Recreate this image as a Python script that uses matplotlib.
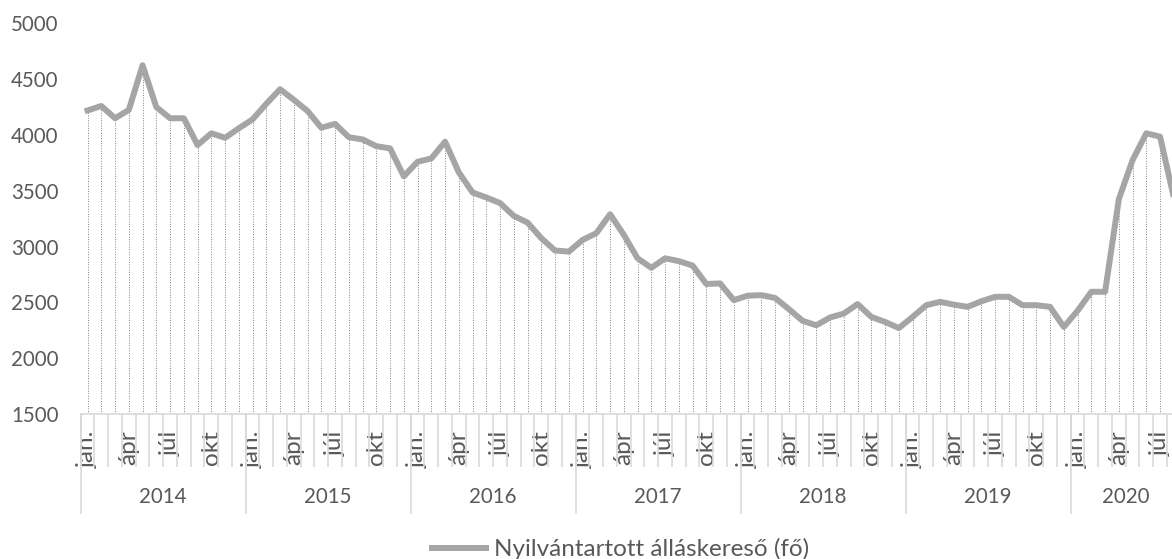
import numpy as np
import matplotlib.pyplot as plt

plt.rcParams['font.family'] = ['Lato', 'DejaVu Sans']

evek = ['2014', '2015', '2016', '2017', '2018', '2019', '2020']
honapok = ['jan.', 'febr.', 'márc.', 'ápr', 'máj.', 'jún.', 'júl', 'aug.', 'szept.', 'okt', 'nov.', 'dec.']

# Nyilvántartott álláskereső (fő), 2014 jan. - 2020 aug.
ertekek = [
    4220, 4260, 4150, 4225, 4625, 4250, 4150, 4150, 3910, 4015, 3975, 4060,   # 2014
    4140, 4280, 4410, 4315, 4215, 4065, 4100, 3980, 3960, 3900, 3880, 3630,   # 2015
    3760, 3790, 3940, 3665, 3485, 3440, 3390, 3275, 3215, 3075, 2965, 2955,   # 2016
    3060, 3120, 3290, 3105, 2895, 2810, 2895, 2870, 2830, 2665, 2670, 2520,   # 2017
    2560, 2565, 2540, 2440, 2335, 2295, 2365, 2400, 2485, 2370, 2325, 2270,   # 2018
    2370, 2475, 2505, 2480, 2460, 2510, 2550, 2550, 2475, 2475, 2460, 2280,   # 2019
    2425, 2595, 2595, 3425, 3775, 4015, 3985, 3440,                           # 2020
]

n = len(ertekek)
x = np.arange(n)
szoveg = '#595959'
vonal = '#A5A5A5'
szam_meret = 14.8
betu_meret = 17.5

fig = plt.figure(figsize=(11.72, 5.59), dpi=100)
ax = fig.add_axes([80.7 / 1172, 145 / 559, 1100 / 1172, 390.6 / 559])

ax.vlines(x, 1500, ertekek, colors='#7F7F7F', linestyles=(0, (1, 1.6)), lw=0.7)
ax.plot(x, ertekek, color=vonal, lw=4.3, solid_joinstyle='round',
        label='Nyilvántartott álláskereső (fő)')

ax.set_xlim(-0.5, n - 0.5)
ax.set_ylim(1500, 5000)
ax.set_yticks(np.arange(1500, 5001, 500))
ax.tick_params(axis='y', length=0, pad=16, labelsize=szam_meret, labelcolor=szoveg)

# honapok: minden harmadik felirat, minden honap kozott elvalaszto
cimke_pos = [i for i in x if i % 3 == 0]
ax.set_xticks(cimke_pos)
ax.set_xticklabels([honapok[i % 12] for i in cimke_pos], rotation=90)
ax.tick_params(axis='x', which='major', length=0, pad=12, labelsize=betu_meret, labelcolor=szoveg)
ax.set_xticks(np.arange(-0.5, n, 1), minor=True)
ax.tick_params(axis='x', which='minor', length=38, width=1.2, color='#D9D9D9')

trans = ax.get_xaxis_transform()
for k, ev in enumerate(evek):
    eleje = k * 12 - 0.5
    vege = min(eleje + 12, n - 0.5)
    ax.plot([eleje, eleje], [0, -0.2535], transform=trans, color='#D9D9D9', lw=1.2, clip_on=False)
    ax.text((eleje + vege) / 2, -0.2125, ev, transform=trans, ha='center', va='center',
            fontsize=szam_meret, color=szoveg)

for s in ['top', 'right', 'left']:
    ax.spines[s].set_visible(False)
ax.spines['bottom'].set_color('#D9D9D9')
ax.spines['bottom'].set_linewidth(1.2)

fig.legend(loc='center', bbox_to_anchor=(621 / 1172, 10 / 559), frameon=False,
           fontsize=betu_meret, labelcolor=szoveg, handlelength=2.2, handletextpad=0.35)

fig.savefig('out.png', dpi=100)
